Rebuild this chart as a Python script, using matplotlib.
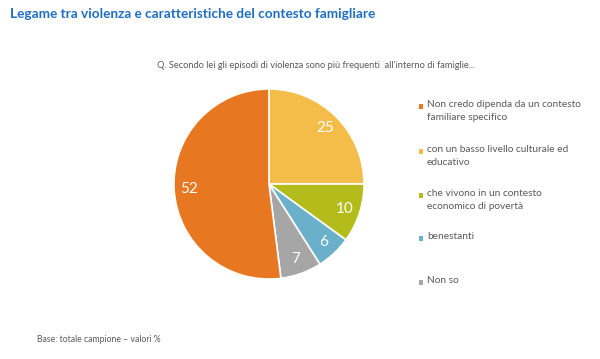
import matplotlib.pyplot as plt
from matplotlib.patches import Rectangle

labels = ["Non credo dipenda da un contesto\nfamiliare specifico",
          "con un basso livello culturale ed\neducativo",
          "che vivono in un contesto\neconomico di povertà",
          "benestanti",
          "Non so"]
values = [52, 25, 10, 6, 7]
colours = ["#E87722", "#F4BD4A", "#B3BC1B", "#6AB0CB", "#A6A6A6"]

# drawing order in the pie (clockwise from the top)
pie_order = [1, 2, 3, 4, 0]

plt.rcParams['font.family'] = ['Lato', 'DejaVu Sans']

fig = plt.figure(figsize=(6, 3.59), dpi=100)
fig.patch.set_facecolor("white")

ax = fig.add_axes([(269 - 96) / 600, 1 - (184 + 96) / 359, 192 / 600, 192 / 359])
wedges, texts = ax.pie([values[i] for i in pie_order],
                       colors=[colours[i] for i in pie_order],
                       startangle=90, counterclock=False,
                       labels=[str(values[i]) for i in pie_order],
                       labeldistance=0.84,
                       wedgeprops=dict(edgecolor="white", linewidth=1.2),
                       textprops=dict(color="white", fontsize=11))
for t in texts:
    t.set_ha("center")
    t.set_va("center")
ax.set_xlim(-1.01, 1.01)
ax.set_ylim(-1.01, 1.01)
ax.set_aspect("equal")

fig.text(10 / 600, 1 - 14 / 359, "Legame tra violenza e caratteristiche del contesto famigliare",
         fontsize=9.8, fontweight="bold", color="#1F6EC4", va="center", ha="left")
fig.text(157 / 600, 1 - 66 / 359,
         "Q. Secondo lei gli episodi di violenza sono più frequenti  all'interno di famiglie...",
         fontsize=6.7, color="#595959", va="center", ha="left")
fig.text(37 / 600, 1 - 340 / 359, "Base: totale campione \u2013 valori %",
         fontsize=6.2, color="#595959", va="center", ha="left")

# legend on the right
leg_y = [106, 151, 195, 238, 282]
for lab, col, y in zip(labels, colours, leg_y):
    fig.patches.append(Rectangle((419 / 600, 1 - (y + 2.5) / 359), 4.5 / 600, 4.5 / 359,
                                 transform=fig.transFigure, facecolor=col, edgecolor="none"))
    fig.text(427 / 600, 1 - (y - 6) / 359, lab, fontsize=7.3, color="#595959",
             va="top", ha="left", linespacing=1.55)

fig.savefig("out.png", dpi=100)
